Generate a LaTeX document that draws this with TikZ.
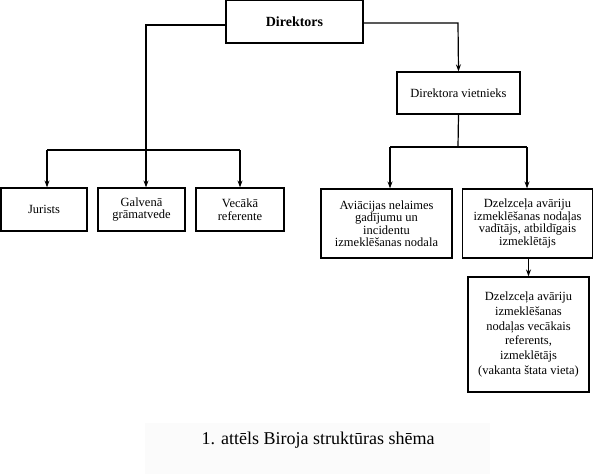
\documentclass[tikz,border=0pt]{standalone}
\usepackage{fontspec}
\setmainfont{Liberation Serif}
\usetikzlibrary{arrows.meta}
\tikzset{
  unit/.style={draw, line width=1.2pt, rectangle, inner sep=0pt, align=center,
    font=\fontsize{12.5}{12.5}\selectfont},
  link/.style={line width=1.2pt},
  arr/.style={line width=1.2pt, -{Stealth[length=7pt,width=5pt]}},
}
\begin{document}
\begin{tikzpicture}[x=1pt,y=-1pt]
\useasboundingbox (0,0) rectangle (594,474);
\fill[black!1.5] (145,423) rectangle (490,474);
% boxes
\node[unit, minimum width=137, minimum height=43, font=\fontsize{14}{16}\selectfont\bfseries] (dir) at (294.5,21.5) {Direktors};
\node[unit, minimum width=123, minimum height=42] (viet) at (458.5,93) {Direktora vietnieks};
\node[unit, minimum width=86, minimum height=43] (jur) at (44,209.5) {Jurists};
\node[unit, minimum width=87, minimum height=43] (galv) at (141.5,209.5) {Galvenā\\grāmatvede};
\node[unit, minimum width=88, minimum height=43] (vec) at (240,209.5) {Vecākā\\referente};
\node[unit, minimum width=131, minimum height=69] (avi) at (386.5,223.5) {Aviācijas nelaimes\\gadījumu un\\incidentu\\izmeklēšanas nodala};
\node[unit, minimum width=130, minimum height=69] (dz) at (527.5,223.5) {Dzelzceļa avāriju\\izmeklēšanas nodaļas\\vadītājs, atbildīgais\\izmeklētājs};
\node[unit, minimum width=121, minimum height=115, font=\fontsize{12.5}{14.7}\selectfont] (ref) at (528.5,334.5) {Dzelzceļa avāriju\\izmeklēšanas\\nodaļas vecākais\\referents,\\izmeklētājs\\(vakanta štata vieta)};
% caption
\node[font=\fontsize{18}{20}\selectfont, inner sep=0pt] (cap) at (318,440) {1. attēls Biroja struktūras shēma};
% coordinates
\coordinate (lc) at (146,25);
\coordinate (lb) at (146,150);
\coordinate (l1) at (47,150);
\coordinate (l3) at (240,150);
\coordinate (rc) at (458,23);
\coordinate (vb) at (458,147);
\coordinate (r1) at (390,147);
\coordinate (r2) at (527,147);
% connectors
\draw[link] (dir.west |- lc) -- (lc) -- (lb);
\draw[link] (l1) -- (l3);
\draw[arr] (l1) -- (l1 |- jur.north);
\draw[arr] (lb) -- (lb |- galv.north);
\draw[arr] (l3) -- (l3 |- vec.north);
\draw[arr] (dir.east |- rc) -- (rc) -- (viet.north);
\draw[link] (viet.south) -- (vb);
\draw[link] (r1) -- (r2);
\draw[arr] (r1) -- (r1 |- avi.north);
\draw[arr] (r2) -- (r2 |- dz.north);
\draw[arr] (dz.south -| ref.north) -- (ref.north);
\end{tikzpicture}
\end{document}
